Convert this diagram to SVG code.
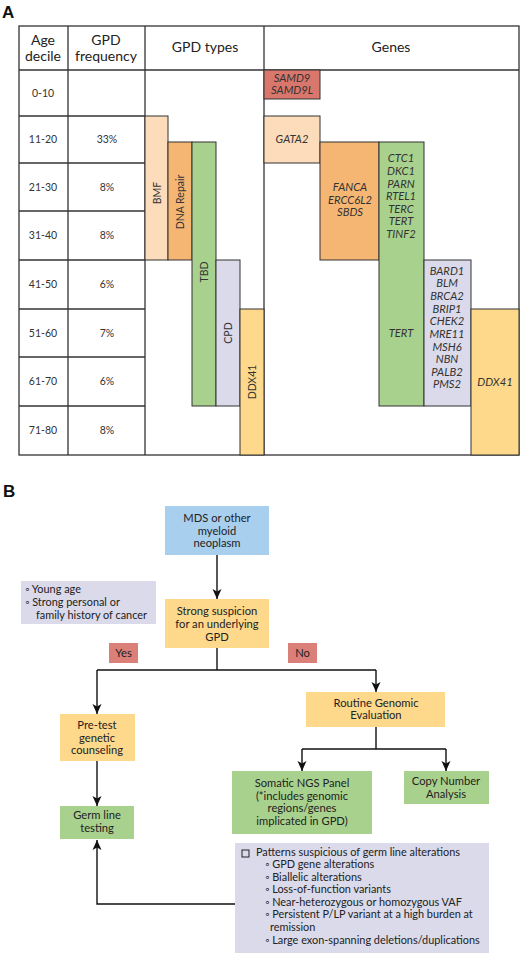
<svg xmlns="http://www.w3.org/2000/svg" width="520" height="954" viewBox="0 0 520 954">
<defs>
<style>
text{font-family:Lato,"Open Sans","Liberation Sans",sans-serif;fill:#222;}
.hd{font-size:14px;text-anchor:middle;}
.rw{font-size:10.5px;text-anchor:middle;fill:#333;}
.gn{font-size:11.2px;font-style:italic;text-anchor:middle;fill:#333;}
.vt{font-size:10.5px;text-anchor:middle;dominant-baseline:central;fill:#333;}
.fl{font-size:11.2px;text-anchor:middle;}
.ls{font-size:10.9px;}
.grid{stroke:#333;stroke-width:1.3;fill:none;}
.bar{stroke:#333;stroke-width:1;}
.conn{stroke:#111;stroke-width:1.4;fill:none;}
.peach{fill:#FCDCBA;}
.orange{fill:#F5B673;}
.green{fill:#A9D18E;}
.lav{fill:#DADAEA;}
.yel{fill:#FED98C;}
.red{fill:#D9776D;}
.blue{fill:#A9CFEF;}
.tag{fill:#DB8079;}
.lbl{font-size:17px;font-weight:bold;font-family:"Liberation Sans",Arial,sans-serif;fill:#111;}
</style>
<marker id="ah" markerUnits="userSpaceOnUse" markerWidth="10" markerHeight="10" viewBox="0 0 10 10" refX="10" refY="5" orient="auto">
<path d="M0,0.5 L10,5 L0,9.5 L2.5,5 z" fill="#111"/>
</marker>
</defs>
<rect width="520" height="954" fill="#fff"/>

<text class="lbl" x="2" y="18">A</text>

<g id="table">
<rect class="grid" x="19" y="26" width="500" height="429"/>
<line class="grid" x1="19" y1="70" x2="519" y2="70"/>
<line class="grid" x1="68" y1="26" x2="68" y2="455"/>
<line class="grid" x1="145" y1="26" x2="145" y2="455"/>
<line class="grid" x1="264" y1="26" x2="264" y2="455"/>
<line class="grid" x1="19" y1="116" x2="145" y2="116"/>
<line class="grid" x1="19" y1="163" x2="145" y2="163"/>
<line class="grid" x1="19" y1="211" x2="145" y2="211"/>
<line class="grid" x1="19" y1="260" x2="145" y2="260"/>
<line class="grid" x1="19" y1="309" x2="145" y2="309"/>
<line class="grid" x1="19" y1="357" x2="145" y2="357"/>
<line class="grid" x1="19" y1="406" x2="145" y2="406"/>
<text class="hd" x="43" y="45">Age</text>
<text class="hd" x="43" y="61">decile</text>
<text class="hd" x="106" y="45">GPD</text>
<text class="hd" x="106" y="61">frequency</text>
<text class="hd" x="205" y="52">GPD types</text>
<text class="hd" x="391" y="52">Genes</text>
<text class="rw" x="43" y="97">0-10</text>
<text class="rw" x="43" y="143">11-20</text><text class="rw" x="107" y="143">33%</text>
<text class="rw" x="43" y="191">21-30</text><text class="rw" x="107" y="191">8%</text>
<text class="rw" x="43" y="239">31-40</text><text class="rw" x="107" y="239">8%</text>
<text class="rw" x="43" y="288">41-50</text><text class="rw" x="107" y="288">6%</text>
<text class="rw" x="43" y="337">51-60</text><text class="rw" x="107" y="337">7%</text>
<text class="rw" x="43" y="385">61-70</text><text class="rw" x="107" y="385">6%</text>
<text class="rw" x="43" y="434">71-80</text><text class="rw" x="107" y="434">8%</text>
</g>

<g id="gpd-types">
<g id="bmf"><rect class="bar peach" x="145" y="116" width="23" height="144"/><text class="vt" transform="translate(157,193) rotate(-90)">BMF</text></g>
<g id="dna-repair"><rect class="bar orange" x="168" y="142" width="24" height="118"/><text class="vt" transform="translate(180,202) rotate(-90)">DNA Repair</text></g>
<g id="tbd"><rect class="bar green" x="192" y="142" width="24" height="264"/><text class="vt" transform="translate(204,272) rotate(-90)">TBD</text></g>
<g id="cpd"><rect class="bar lav" x="216" y="260" width="24" height="146"/><text class="vt" transform="translate(228,333) rotate(-90)">CPD</text></g>
<g id="ddx41-type"><rect class="bar yel" x="240" y="309" width="24" height="146"/><text class="vt" transform="translate(252,382) rotate(-90)">DDX41</text></g>
</g>

<g id="genes">
<g id="samd9"><rect class="bar red" x="264" y="70" width="56" height="29"/><text class="gn" x="292" y="82">SAMD9</text><text class="gn" x="292" y="94">SAMD9L</text></g>
<g id="gata2"><rect class="bar peach" x="264" y="116" width="56" height="47"/><text class="gn" x="292" y="143">GATA2</text></g>
<g id="fanca"><rect class="bar orange" x="320" y="142" width="59" height="118"/><text class="gn" x="350" y="191">FANCA</text><text class="gn" x="350" y="204">ERCC6L2</text><text class="gn" x="350" y="216">SBDS</text></g>
<g id="tbd-genes"><rect class="bar green" x="379" y="142" width="45" height="264"/>
<text class="gn" x="401" y="162">CTC1</text><text class="gn" x="401" y="175">DKC1</text><text class="gn" x="401" y="188">PARN</text><text class="gn" x="401" y="200">RTEL1</text><text class="gn" x="401" y="213">TERC</text><text class="gn" x="401" y="225">TERT</text><text class="gn" x="401" y="238">TINF2</text><text class="gn" x="401" y="337">TERT</text></g>
<g id="cpd-genes"><rect class="bar lav" x="424" y="260" width="47" height="146"/>
<text class="gn" x="447" y="275">BARD1</text><text class="gn" x="447" y="287">BLM</text><text class="gn" x="447" y="300">BRCA2</text><text class="gn" x="447" y="313">BRIP1</text><text class="gn" x="447" y="325">CHEK2</text><text class="gn" x="447" y="338">MRE11</text><text class="gn" x="447" y="351">MSH6</text><text class="gn" x="447" y="363">NBN</text><text class="gn" x="447" y="376">PALB2</text><text class="gn" x="447" y="388">PMS2</text></g>
<g id="ddx41-gene"><rect class="bar yel" x="471" y="309" width="48" height="146"/><text class="gn" x="495" y="386">DDX41</text></g>
</g>

<text class="lbl" x="3" y="497">B</text>

<g id="connectors">
<line class="conn" x1="217" y1="555" x2="217" y2="599" marker-end="url(#ah)"/>
<polyline class="conn" points="217,648 217,670"/>
<line class="conn" x1="97" y1="670" x2="376" y2="670"/>
<line class="conn" x1="97" y1="670" x2="97" y2="714" marker-end="url(#ah)"/>
<line class="conn" x1="376" y1="670" x2="376" y2="692" marker-end="url(#ah)"/>
<line class="conn" x1="376" y1="727" x2="376" y2="749"/>
<line class="conn" x1="302" y1="749" x2="446" y2="749"/>
<line class="conn" x1="302" y1="749" x2="302" y2="771" marker-end="url(#ah)"/>
<line class="conn" x1="446" y1="749" x2="446" y2="771" marker-end="url(#ah)"/>
<line class="conn" x1="97" y1="761" x2="97" y2="806" marker-end="url(#ah)"/>
<polyline class="conn" points="235,904 97,904 97,840" marker-end="url(#ah)"/>
</g>

<g id="mds"><rect class="blue" x="165" y="506" width="104" height="49"/>
<text class="fl" x="217" y="522">MDS or other</text><text class="fl" x="217" y="535">myeloid</text><text class="fl" x="217" y="547">neoplasm</text></g>

<g id="criteria"><rect class="lav" x="21" y="581" width="135" height="43"/>
<text class="ls" x="25" y="593">◦ Young age</text><text class="ls" x="25" y="606">◦ Strong personal or</text><text class="ls" x="36" y="619">family history of cancer</text></g>

<g id="suspicion"><rect class="yel" x="165" y="599" width="104" height="49"/>
<text class="fl" x="217" y="615">Strong suspicion</text><text class="fl" x="217" y="628">for an underlying</text><text class="fl" x="217" y="641">GPD</text></g>

<g id="yes"><rect class="tag" x="109" y="643" width="29" height="20"/><text class="fl" x="123.5" y="657">Yes</text></g>
<g id="no"><rect class="tag" x="288" y="643" width="29" height="20"/><text class="fl" x="302.5" y="657">No</text></g>

<g id="pretest"><rect class="yel" x="60" y="714" width="75" height="47"/>
<text class="fl" x="97" y="729">Pre-test</text><text class="fl" x="97" y="742">genetic</text><text class="fl" x="97" y="754">counseling</text></g>

<g id="routine"><rect class="yel" x="306" y="692" width="139" height="35"/>
<text class="fl" x="376" y="707">Routine Genomic</text><text class="fl" x="376" y="719">Evaluation</text></g>

<g id="somatic"><rect class="green" x="232" y="771" width="140" height="63"/>
<text class="fl" x="302" y="787">Somatic NGS Panel</text><text class="fl" x="302" y="800">(*includes genomic</text><text class="fl" x="302" y="812">regions/genes</text><text class="fl" x="302" y="825">implicated in GPD)</text></g>

<g id="copynumber"><rect class="green" x="404" y="771" width="85" height="33"/>
<text class="fl" x="446" y="785">Copy Number</text><text class="fl" x="446" y="798">Analysis</text></g>

<g id="germline"><rect class="green" x="60" y="806" width="74" height="33"/>
<text class="fl" x="97" y="819">Germ line</text><text class="fl" x="97" y="832">testing</text></g>

<g id="patterns"><rect class="lav" x="235" y="843" width="254" height="110"/>
<rect x="242" y="850" width="7" height="7" fill="none" stroke="#222" stroke-width="1"/>
<text class="ls" x="256" y="856">Patterns suspicious of germ line alterations</text>
<text class="ls" x="265" y="868">◦ GPD gene alterations</text>
<text class="ls" x="265" y="881">◦ Biallelic alterations</text>
<text class="ls" x="265" y="893">◦ Loss-of-function variants</text>
<text class="ls" x="265" y="906">◦ Near-heterozygous or homozygous VAF</text>
<text class="ls" x="265" y="918">◦ Persistent P/LP variant at a high burden at</text>
<text class="ls" x="270" y="931">remission</text>
<text class="ls" x="265" y="944">◦ Large exon-spanning deletions/duplications</text>
</g>
</svg>
